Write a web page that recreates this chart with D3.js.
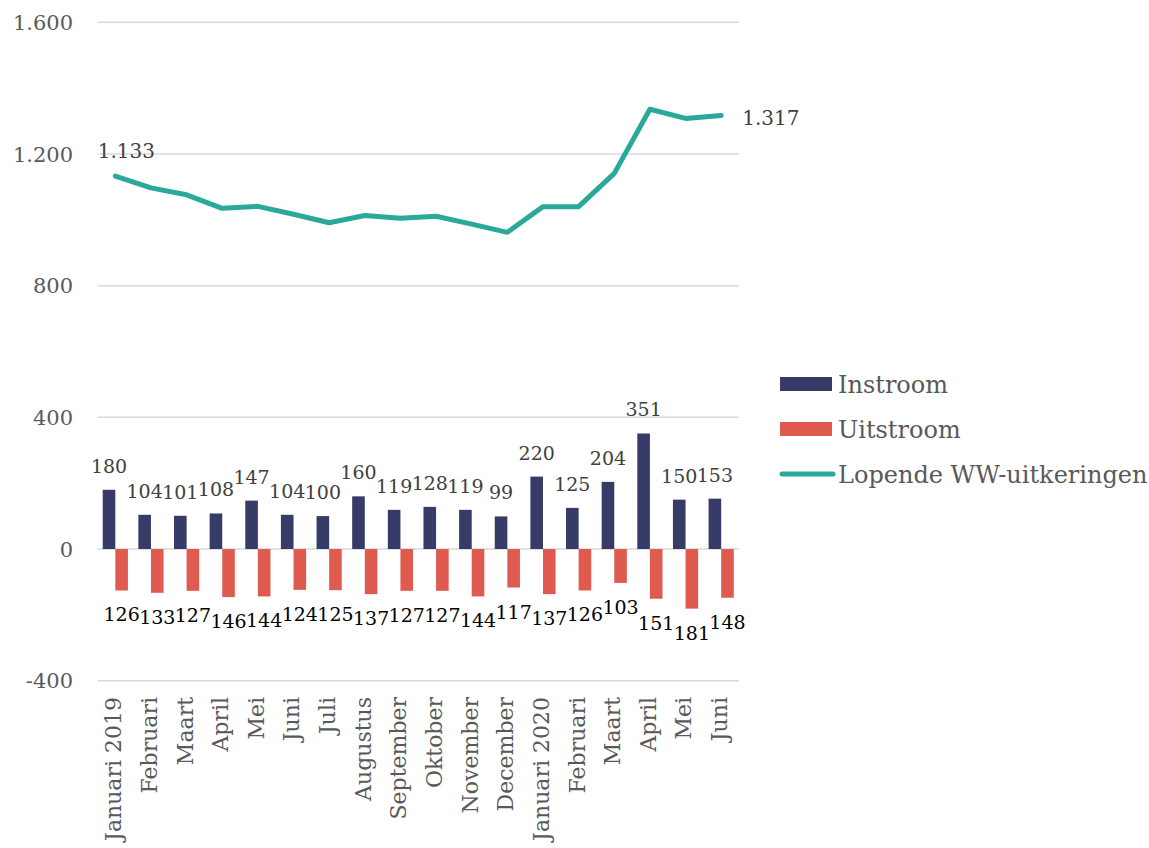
<!DOCTYPE html>
<html>
<head>
<meta charset="utf-8">
<script src="https://cdn.jsdelivr.net/npm/d3@7"></script>
<style>
  body { margin: 0; background: #fff; }
  text { font-family: "DejaVu Serif", serif; }
</style>
</head>
<body>
<svg id="chart" width="1149" height="848"></svg>
<script>
const months = ["Januari 2019", "Februari", "Maart", "April", "Mei", "Juni", "Juli",
  "Augustus", "September", "Oktober", "November", "December",
  "Januari 2020", "Februari ", "Maart ", "April ", "Mei ", "Juni "];
const instroom = [180, 104, 101, 108, 147, 104, 100, 160, 119, 128, 119, 99, 220, 125, 204, 351, 150, 153];
const uitstroom = [126, 133, 127, 146, 144, 124, 125, 137, 127, 127, 144, 117, 137, 126, 103, 151, 181, 148];
const lopend = [1133, 1097, 1076, 1035, 1041, 1017, 991, 1013, 1005, 1011, 987, 962, 1040, 1040, 1141, 1336, 1308, 1317];
const yTicks = [-400, 0, 400, 800, 1200, 1600];

const svg = d3.select("#chart");
const plotLeft = 97.5, plotRight = 739;

const x = d3.scaleBand().domain(months).range([plotLeft, plotRight]).padding(0);
const y = d3.scaleLinear().domain([-400, 1600]).range([680.7, 22.3]);
// Dutch thousands separator, plain hyphen for negatives
const fmt = v => d3.format(",")(v).replace(/,/g, ".").replace("\u2212", "-");

const blue = "#373b68", red = "#df5b50", teal = "#2aa89a";

// gridlines
svg.append("g")
  .selectAll("line")
  .data(yTicks)
  .enter()
  .append("line")
  .attr("x1", plotLeft).attr("x2", plotRight)
  .attr("y1", d => y(d)).attr("y2", d => y(d))
  .attr("stroke", "#d9d9d9")
  .attr("stroke-width", 1.5);

// y tick labels
svg.append("g")
  .selectAll("text")
  .data(yTicks)
  .enter()
  .append("text")
  .attr("x", 73)
  .attr("y", d => y(d))
  .attr("dy", "0.36em")
  .attr("text-anchor", "end")
  .attr("font-size", "21px")
  .attr("fill", "#595959")
  .text(d => fmt(d));

const barW = 12.6;

// instroom bars
svg.append("g")
  .selectAll("rect")
  .data(instroom)
  .enter()
  .append("rect")
  .attr("x", (d, i) => x(months[i]) + x.bandwidth() / 2 - barW)
  .attr("y", d => y(d))
  .attr("width", barW)
  .attr("height", d => y(0) - y(d))
  .attr("fill", blue);

// uitstroom bars (negative)
svg.append("g")
  .selectAll("rect")
  .data(uitstroom)
  .enter()
  .append("rect")
  .attr("x", (d, i) => x(months[i]) + x.bandwidth() / 2)
  .attr("y", y(0))
  .attr("width", barW)
  .attr("height", d => y(-d) - y(0))
  .attr("fill", red);

// bar labels
svg.append("g")
  .selectAll("text")
  .data(instroom)
  .enter()
  .append("text")
  .attr("x", (d, i) => x(months[i]) + x.bandwidth() / 2 - barW / 2)
  .attr("y", d => y(d) - 17)
  .attr("text-anchor", "middle")
  .attr("font-size", "19px")
  .attr("fill", "#404040")
  .text(d => d);

svg.append("g")
  .selectAll("text")
  .data(uitstroom)
  .enter()
  .append("text")
  .attr("x", (d, i) => x(months[i]) + x.bandwidth() / 2 + barW / 2)
  .attr("y", d => y(-d) + 31)
  .attr("text-anchor", "middle")
  .attr("font-size", "19px")
  .attr("fill", "#000")
  .text(d => d);

// line
const line = d3.line()
  .x((d, i) => x(months[i]) + x.bandwidth() / 2)
  .y(d => y(d));

svg.append("path")
  .datum(lopend)
  .attr("d", line)
  .attr("fill", "none")
  .attr("stroke", teal)
  .attr("stroke-width", 5)
  .attr("stroke-linecap", "round")
  .attr("stroke-linejoin", "round");

// line end labels
const last = lopend.length - 1;
svg.append("text")
  .attr("x", x(months[0]) + x.bandwidth() / 2 + 11)
  .attr("y", y(lopend[0]) - 18)
  .attr("text-anchor", "middle")
  .attr("font-size", "20px")
  .attr("fill", "#404040")
  .text(fmt(lopend[0]));
svg.append("text")
  .attr("x", x(months[last]) + x.bandwidth() / 2 + 21)
  .attr("y", y(lopend[last]) + 10)
  .attr("font-size", "20px")
  .attr("fill", "#404040")
  .text(fmt(lopend[last]));

// category labels
svg.append("g")
  .selectAll("text")
  .data(months)
  .enter()
  .append("text")
  .attr("transform", d => `translate(${x(d) + x.bandwidth() / 2 - 2},697) rotate(-90)`)
  .attr("dy", "0.36em")
  .attr("text-anchor", "end")
  .attr("font-size", "22px")
  .attr("fill", "#595959")
  .text(d => d.trim());

// legend
const legendItems = [
  { name: "Instroom", color: blue, type: "rect" },
  { name: "Uitstroom", color: red, type: "rect" },
  { name: "Lopende WW-uitkeringen", color: teal, type: "line" }
];
const legend = svg.append("g").attr("transform", "translate(780,384)");
legendItems.forEach((d, i) => {
  const g = legend.append("g").attr("transform", `translate(0,${i * 45})`);
  if (d.type === "rect") {
    g.append("rect").attr("x", 0).attr("y", -7).attr("width", 52).attr("height", 14).attr("fill", d.color);
  } else {
    g.append("line").attr("x1", 2).attr("x2", 53).attr("y1", 0).attr("y2", 0)
      .attr("stroke", d.color).attr("stroke-width", 5).attr("stroke-linecap", "round");
  }
  g.append("text")
    .attr("x", 58)
    .attr("y", 0)
    .attr("dy", "0.36em")
    .attr("font-size", "24px")
    .attr("fill", "#595959")
    .text(d.name);
});
</script>
</body>
</html>
